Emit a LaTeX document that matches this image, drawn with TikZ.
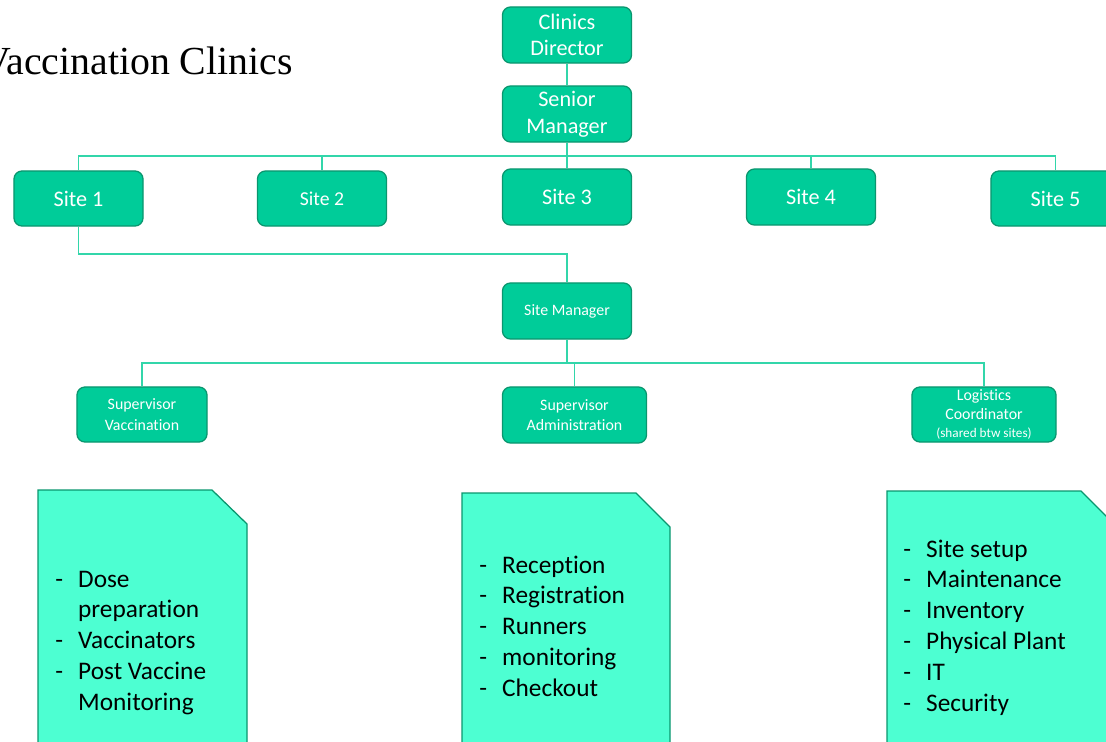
\documentclass[tikz,border=0pt]{standalone}
\usepackage{fontspec}
\setmainfont{Carlito}[Ligatures=NoCommon]
\newfontfamily\titlefont{Liberation Serif}
\usetikzlibrary{positioning}
\definecolor{boxgreen}{RGB}{0,204,153}
\definecolor{boxedge}{RGB}{10,150,110}
\definecolor{linkgreen}{RGB}{50,214,170}
\definecolor{notegreen}{RGB}{77,255,210}
\newcommand{\notelist}[1]{\begin{tabular}[t]{@{}p{16.3pt}@{}l@{}}#1\end{tabular}}

\begin{document}
\begin{tikzpicture}
[x=0.025cm,y=-0.025cm,
box/.style={shape=rectangle,rounded corners=0.2cm,draw=boxedge,fill=boxgreen,
  line width=0.9pt,text=white,align=center,inner sep=0pt,
  minimum width=3.225cm,minimum height=1.375cm},
bigbox/.style={box,font=\fontsize{15.8}{19}\selectfont},
smallbox/.style={box,font=\fontsize{11.3}{14.5}\selectfont},
link/.style={draw=linkgreen,line width=0.9pt},
note/.style={draw=boxedge,fill=notegreen,line width=0.9pt},
notetext/.style={anchor=base west,inner sep=0pt,font=\fontsize{18}{22}\selectfont}]

\useasboundingbox (0,0) rectangle (1106,742);

\draw (293,75) node (title) [anchor=base east,inner sep=0pt,
    font=\titlefont\fontsize{28.3}{34}\selectfont] {Vaccination Clinics};

\draw (567,35) node (dir) [bigbox,minimum height=1.4cm] {Clinics\\Director};
\draw (567,114) node (senior) [bigbox,minimum height=1.4cm] {Senior\\Manager};

\draw (78.5,198.5) node (s1) [bigbox] {Site 1};
\draw (322,198.5) node (s2) [bigbox,font=\fontsize{14}{17}\selectfont] {Site 2};
\draw (567,197) node (s3) [bigbox,minimum height=1.4cm] {Site 3};
\draw (811,197) node (s4) [bigbox,minimum height=1.4cm] {Site 4};
\draw (1055.5,198.5) node (s5) [bigbox] {Site 5};

\draw (567,311) node (sm) [smallbox,minimum height=1.4cm] {Site Manager};

\draw (142,414.5) node (supvac) [smallbox,minimum width=3.25cm]
    {Supervisor\\Vaccination};
\draw (574.5,415) node (supadm) [smallbox,minimum width=3.6cm,minimum height=1.4cm]
    {Supervisor\\Administration};
\draw (984,414.5) node (logi) [smallbox,minimum width=3.6cm,
    font=\fontsize{11.3}{13}\selectfont]
    {Logistics\\Coordinator\\{\fontsize{9.4}{11}\selectfont(shared btw sites)}};

% links
\coordinate (bus1) at (567,156);
\draw [link] (dir) -- (senior);
\draw [link] (senior) -- (bus1) -| (s1);
\draw [link] (senior) -- (bus1) -| (s2);
\draw [link] (senior) -- (s3);
\draw [link] (senior) -- (bus1) -| (s4);
\draw [link] (senior) -- (bus1) -| (s5);

\coordinate (elbow) at (78.5,254);
\draw [link] (s1) -- (elbow) -| (sm);

\coordinate (bus2) at (567,363);
\draw [link] (sm) -- (bus2) -| (supvac);
\draw [link] (sm) -- (bus2) -| (supadm);
\draw [link] (sm) -- (bus2) -| (logi);

% task notes
\draw [note] (38,490) -- (212,490) -- (247,524) -- (247,760) -- (38,760) -- cycle;
\draw (55,587) node (vacnote) [notetext]
    {\notelist{- & Dose\\ & preparation\\- & Vaccinators\\- & Post Vaccine\\ & Monitoring}};

\draw [note] (462,493) -- (636,493) -- (670,527) -- (670,760) -- (462,760) -- cycle;
\draw (479,573) node (admnote) [notetext]
    {\notelist{- & Reception\\- & Registration\\- & Runners\\- & monitoring\\- & Checkout}};

\draw [note] (887,491) -- (1081,491) -- (1116,526) -- (1116,760) -- (887,760) -- cycle;
\draw (903,557) node (loginote) [notetext]
    {\notelist{- & Site setup\\- & Maintenance\\- & Inventory\\- & Physical Plant\\- & IT\\- & Security}};
\end{tikzpicture}
\end{document}
